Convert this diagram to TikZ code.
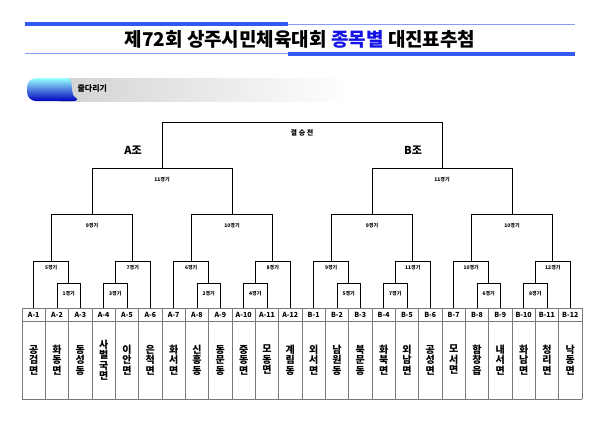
\documentclass[tikz,border=0pt]{standalone}
\usepackage{fontspec}
\setmainfont{Noto Sans CJK KR}
\usetikzlibrary{calc,positioning}
\definecolor{bannerblue}{RGB}{50,90,240}
\definecolor{titleblue}{RGB}{20,20,230}
\definecolor{tabgray}{RGB}{120,120,120}

\begin{document}
\begin{tikzpicture}[x=1pt,y=-1pt,
  bar/.style={line width=0.7pt},
  game/.style={font=\fontsize{5}{6}\selectfont\bfseries},
  slot/.style={font=\fontsize{7}{8}\selectfont\bfseries},
  team/.style={font=\fontsize{10}{10.5}\selectfont\bfseries,align=center}]
  \useasboundingbox (0,0) rectangle (600,424);

  % Title banner
  \fill[bannerblue] (25,22) rectangle (288,26);
  \draw[bannerblue!60,line width=0.6pt] (288,24) -- (575,24);
  \draw[bannerblue!60,line width=0.6pt] (25,53) -- (288,53);
  \fill[bannerblue] (288,52) rectangle (575,56);
  \node[font=\fontsize{19}{22}\selectfont\bfseries] (title) at (300,39)
    {제72회 상주시민체육대회 \textcolor{titleblue}{종목별} 대진표추첨};

  % Event banner
  \shade[left color=gray!35,right color=white] (60,78) rectangle (350,101);
  \shade[top color=cyan!40,bottom color=blue!75!black,rounded corners=9pt]
    (27,78) -- (60,78) to[out=0,in=150] (82,101) -- (27,101) -- cycle;
  \node[font=\fontsize{8}{9}\selectfont\bfseries,anchor=west] (event) at (74,89) {줄다리기};

  % Team table
  \foreach \i in {0,...,24} \draw[tabgray] ({22+23.33*\i},308) -- ({22+23.33*\i},399);
  \draw[tabgray] (22,308) -- (582,308);
  \draw[tabgray] (22,321) -- (582,321);
  \draw[tabgray] (22,399) -- (582,399);
  \foreach \g/\o in {A/0,B/12}
    \foreach \k in {1,...,12}
      \node[slot] (\g\k) at ({22+23.33*(\o+\k-0.5)},314.5) {\g-\k};
  \foreach \n [count=\i] in {공\\검\\면,화\\동\\면,동\\성\\동,사\\벌\\국\\면,이\\안\\면,은\\척\\면,
      화\\서\\면,신\\흥\\동,동\\문\\동,중\\동\\면,모\\동\\면,계\\림\\동,
      외\\서\\면,남\\원\\동,북\\문\\동,화\\북\\면,외\\남\\면,공\\성\\면,
      모\\서\\면,함\\창\\읍,내\\서\\면,화\\남\\면,청\\리\\면,낙\\동\\면}
    \node[team] (t\i) at ({22+23.33*(\i-0.5)},360) {\n};

  % Brackets of each group
  \foreach \g/\o/\a in {A/0/0,B/280/4} {
    \begin{scope}[xshift=\o]
      \pgfmathtruncatemacro{\mA}{\a+1}\pgfmathtruncatemacro{\mB}{\a+2}
      \pgfmathtruncatemacro{\mC}{\a+3}\pgfmathtruncatemacro{\mD}{\a+4}
      \pgfmathtruncatemacro{\mE}{\a+5}\pgfmathtruncatemacro{\mF}{\a+6}
      \pgfmathtruncatemacro{\mG}{\a+7}\pgfmathtruncatemacro{\mH}{\a+8}
      % first round
      \draw[bar] (57,308) |- (80.3,283) -- (80.3,308);
      \draw[bar] (103.7,308) |- (127,283) -- (127,308);
      \draw[bar] (197,308) |- (220.3,283) -- (220.3,308);
      \draw[bar] (243.7,308) |- (267,283) -- (267,308);
      \node[game] at (68.7,294) {{\mA}경기};
      \node[game] at (115.3,294) {{\mC}경기};
      \node[game] at (208.7,294) {{\mB}경기};
      \node[game] at (255.3,294) {{\mD}경기};
      % second round
      \draw[bar] (33.7,308) |- (68.7,261) -- (68.7,283);
      \draw[bar] (115.3,283) |- (150.3,261) -- (150.3,308);
      \draw[bar] (173.7,308) |- (208.7,261) -- (208.7,283);
      \draw[bar] (255.3,283) |- (290.3,261) -- (290.3,308);
      \node[game] at (51.2,268) {{\mE}경기};
      \node[game] at (132.8,268) {{\mG}경기};
      \node[game] at (191.2,268) {{\mF}경기};
      \node[game] at (272.8,268) {{\mH}경기};
      % third round
      \draw[bar] (51.2,261) |- (132.8,214) -- (132.8,261);
      \draw[bar] (191.2,261) |- (272.8,214) -- (272.8,261);
      \node[game] at (92,226) {9경기};
      \node[game] at (232,226) {10경기};
      % group final
      \draw[bar] (92,214) |- (232,168) -- (232,214);
      \node[game] at (162,180) {11경기};
      \node[font=\fontsize{11}{12}\selectfont\bfseries] at (133,150) {{\g}조};
    \end{scope}
  }
  % Final
  \draw[bar] (162,168) |- (442,122) -- (442,168);
  \node[font=\fontsize{7}{8}\selectfont\bfseries] (final) at (302,133) {결 승 전};
\end{tikzpicture}
\end{document}
